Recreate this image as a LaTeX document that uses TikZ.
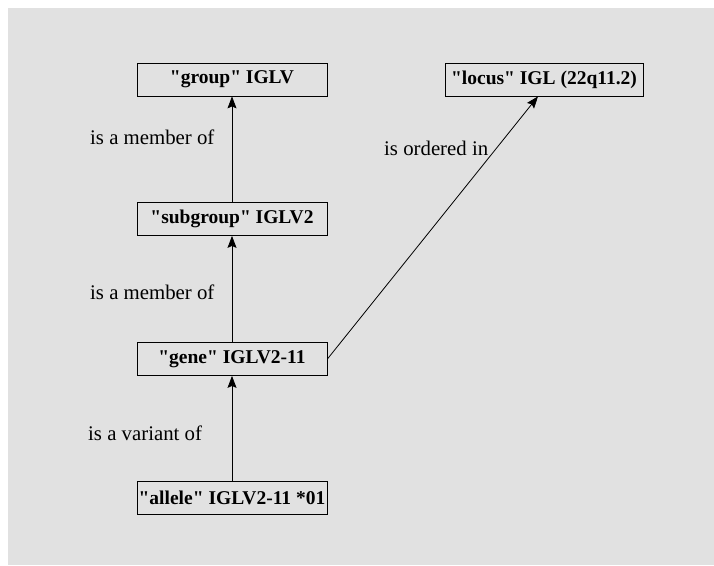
\documentclass[tikz,border=0pt]{standalone}
\usepackage{fontspec}
\setmainfont{Liberation Serif}[Ligatures=TeXOff]
\usepackage{xcolor}
\usetikzlibrary{positioning, arrows.meta}
\definecolor{bggray}{RGB}{225,225,225}

\begin{document}
\begin{tikzpicture}[x=1pt,y=-1pt,>={Stealth[length=12pt,width=9pt,inset=2pt]},
  termbox/.style={draw,thick,rectangle,minimum width=190pt,minimum height=33pt,
    inner sep=0pt,font=\fontsize{19.5}{22}\selectfont\bfseries},
  rellabel/.style={anchor=west,inner sep=0pt,font=\fontsize{20.8}{24}\selectfont},
  link/.style={->,line width=0.8pt}]
  \useasboundingbox (0,0) rectangle (714,565);
  \fill[bggray](8,8) rectangle (714,565);
  \node[termbox] (group)    at (232,79.5){"group" IGLV};
  \node[termbox] (subgroup) at (232,219){"subgroup" IGLV2};
  \node[termbox] (gene)     at (232,359){"gene" IGLV2-11};
  \node[termbox] (allele)   at (232,498){"allele" IGLV2-11 *01};
  \node[termbox,minimum width=198pt] (locus) at (544,79.5){"locus" IGL (22q11.2)};
  % relations
  \draw[link](allele)--(gene);
  \draw[link](gene)--(subgroup);
  \draw[link](subgroup)--(group);
  \draw[link](gene.east)--([xshift=-6pt]locus.south);
  \node[rellabel] (member1) at (90,137){is a member of};
  \node[rellabel] (member2) at (90,292){is a member of};
  \node[rellabel] (variant) at (88,433){is a variant of};
  \node[rellabel] (ordered) at (384,148){is ordered in};
\end{tikzpicture}
\end{document}
